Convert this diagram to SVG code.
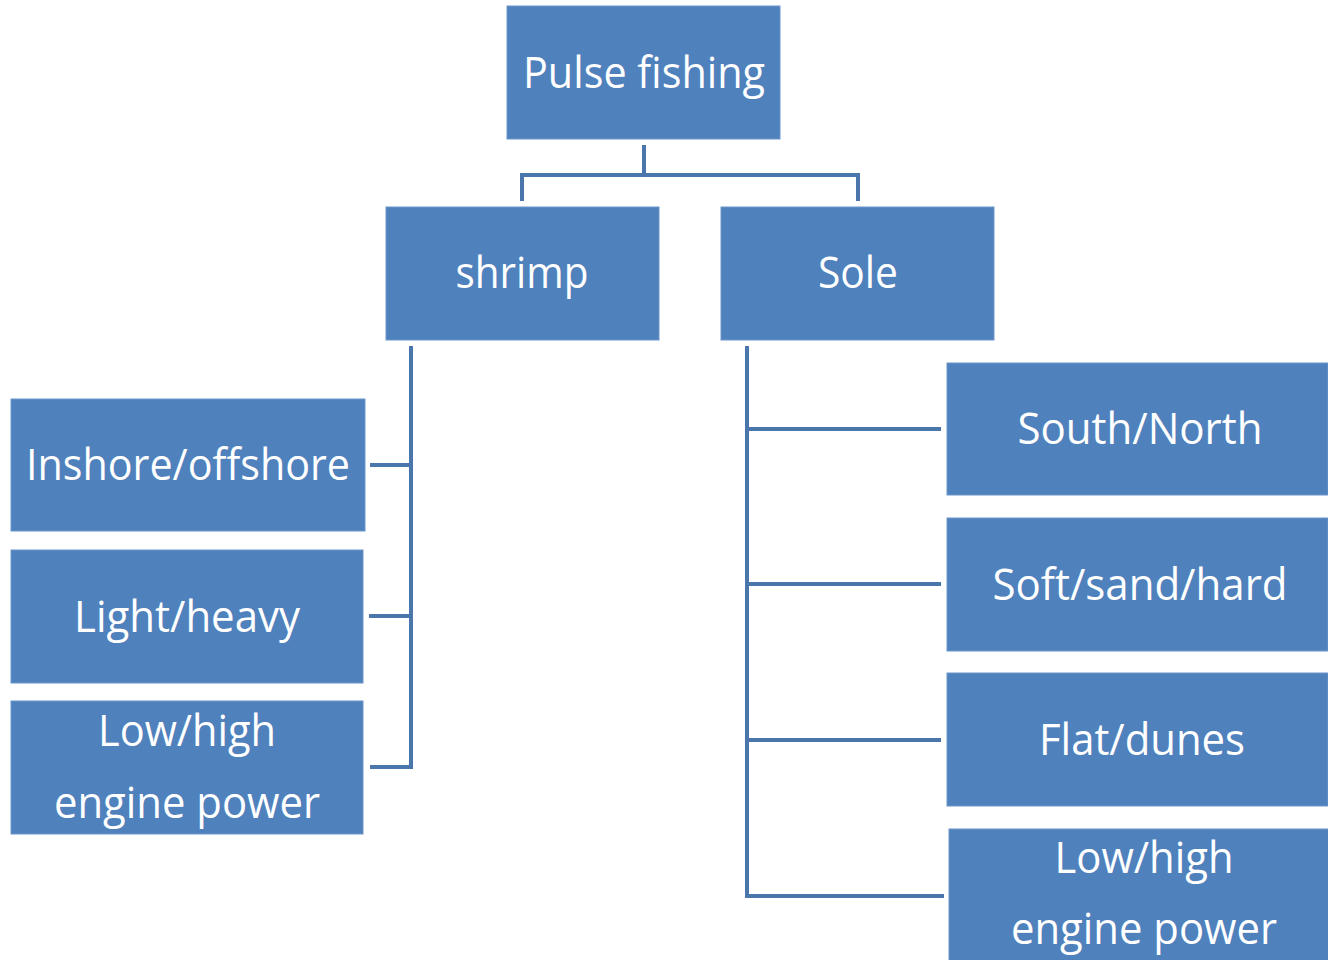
<svg xmlns="http://www.w3.org/2000/svg" width="1328" height="960" viewBox="0 0 1328 960">
<style>
.box{fill:#4F81BD;stroke:#6D97CC;stroke-width:1}
.t{font-family:"Open Sans","Noto Sans","Liberation Sans",sans-serif;font-size:44px;fill:#FFFFFF;text-anchor:middle}
.c{fill:none;stroke:#4A76AC;stroke-width:4;stroke-linecap:butt;stroke-linejoin:miter}
</style>
<rect width="1328" height="960" fill="#FFFFFF"/>
<g id="connectors">
<path class="c" d="M644 145 V175 M522 201 V175 H858 V201"/>
<path class="c" d="M411 346 V767 H370 M370 465 H411 M369 616 H411"/>
<path class="c" d="M747 346 V896 H944 M747 429 H941 M747 584 H941 M747 740 H941"/>
</g>
<g id="pulse"><rect class="box" x="507" y="6" width="273" height="133"/><text class="t" x="644" y="88" textLength="242" lengthAdjust="spacingAndGlyphs">Pulse fishing</text></g>
<g id="shrimp"><rect class="box" x="386" y="207" width="273" height="133"/><text class="t" x="522" y="288" textLength="133" lengthAdjust="spacingAndGlyphs">shrimp</text></g>
<g id="sole"><rect class="box" x="721" y="207" width="273" height="133"/><text class="t" x="858" y="288" textLength="80" lengthAdjust="spacingAndGlyphs">Sole</text></g>
<g id="inshore"><rect class="box" x="11" y="399" width="354" height="132"/><text class="t" x="188" y="480" textLength="324" lengthAdjust="spacingAndGlyphs">Inshore/offshore</text></g>
<g id="light"><rect class="box" x="11" y="550" width="352" height="133"/><text class="t" x="187" y="632" textLength="226" lengthAdjust="spacingAndGlyphs">Light/heavy</text></g>
<g id="engine-left"><rect class="box" x="11" y="701" width="352" height="133"/><text class="t" x="187" y="746" textLength="178" lengthAdjust="spacingAndGlyphs">Low/high</text><text class="t" x="187" y="818" textLength="266" lengthAdjust="spacingAndGlyphs">engine power</text></g>
<g id="southnorth"><rect class="box" x="947" y="363" width="381" height="132"/><text class="t" x="1140" y="444" textLength="245" lengthAdjust="spacingAndGlyphs">South/North</text></g>
<g id="soft"><rect class="box" x="947" y="518" width="381" height="133"/><text class="t" x="1140" y="600" textLength="295" lengthAdjust="spacingAndGlyphs">Soft/sand/hard</text></g>
<g id="flat"><rect class="box" x="947" y="673" width="381" height="133"/><text class="t" x="1142" y="755" textLength="206" lengthAdjust="spacingAndGlyphs">Flat/dunes</text></g>
<g id="engine-right"><rect class="box" x="949" y="829" width="381" height="133"/><text class="t" x="1144" y="873" textLength="179" lengthAdjust="spacingAndGlyphs">Low/high</text><text class="t" x="1144" y="944" textLength="266" lengthAdjust="spacingAndGlyphs">engine power</text></g>
</svg>
